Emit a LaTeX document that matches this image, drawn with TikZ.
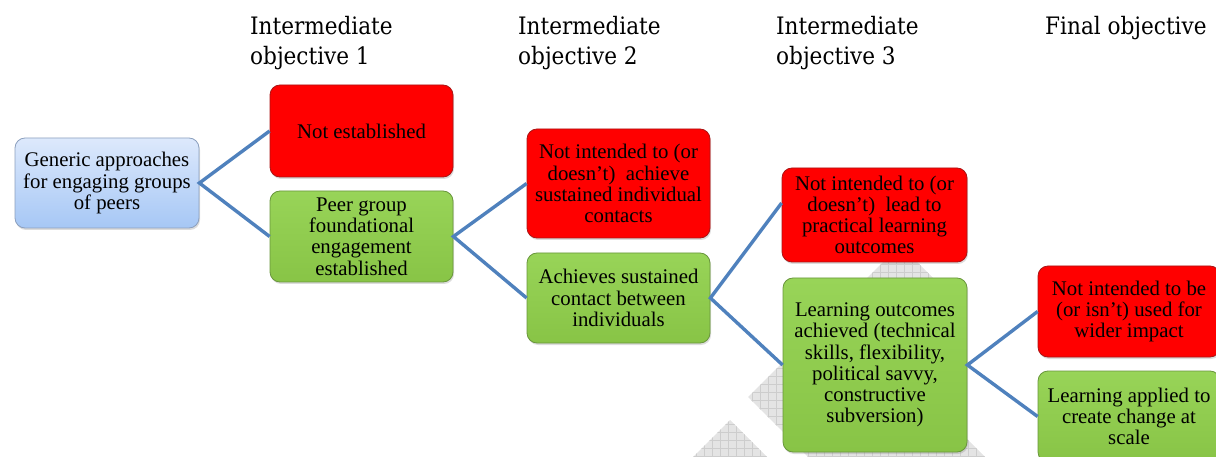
\documentclass[tikz,border=0pt]{standalone}
\usepackage{fontspec}
\setmainfont{Liberation Serif}
\newfontfamily\headfont{DejaVu Serif Condensed}
\usetikzlibrary{shadows}
\definecolor{linkblue}{RGB}{79,129,189}
\definecolor{bluetop}{RGB}{221,233,252}
\definecolor{bluebot}{RGB}{166,199,245}
\definecolor{blueedge}{RGB}{140,160,190}
\definecolor{redfill}{RGB}{255,0,0}
\definecolor{rededge}{RGB}{170,20,20}
\definecolor{greentop}{RGB}{152,212,88}
\definecolor{greenbot}{RGB}{136,196,70}
\definecolor{greenedge}{RGB}{105,150,60}
\definecolor{wmgray}{RGB}{228,228,228}
\definecolor{wmline}{RGB}{205,205,205}
\tikzset{
  boxbase/.style={rounded corners=10pt, inner sep=0pt, align=center,
    font=\rmfamily\fontsize{20.8}{21.2}\selectfont, line width=0.8pt,
    drop shadow={opacity=0.28, shadow xshift=1pt, shadow yshift=-2pt}},
  bluebox/.style={boxbase, draw=blueedge, top color=bluetop, bottom color=bluebot},
  redbox/.style={boxbase, draw=rededge, fill=redfill},
  greenbox/.style={boxbase, draw=greenedge, top color=greentop, bottom color=greenbot},
  link/.style={draw=linkblue, line width=3.4pt},
  header/.style={anchor=base west, inner sep=0pt, font=\headfont\fontsize{24}{30}\selectfont}
}
\begin{document}
\begin{tikzpicture}[x=1pt,y=-1pt]
\useasboundingbox (0,0) rectangle (1216,457);
% watermark
\begin{scope}
  \clip (900,245) -- (748,397) -- (808,457) -- (985,457) -- (955,427) -- (955,300) -- cycle;
  \fill[wmgray] (700,230) rectangle (1000,460);
  \draw[wmline, line width=0.4pt, step=8pt] (700,230) grid (1000,460);
\end{scope}
\begin{scope}
  \clip (693,457) -- (730,420) -- (767,457) -- cycle;
  \fill[wmgray] (690,415) rectangle (770,460);
  \draw[wmline, line width=0.4pt, step=8pt] (690,415) grid (770,460);
\end{scope}
% headers
\node[header] (h1a) at (250,35) {Intermediate};
\node[header] (h1b) at (250,65) {objective 1};
\node[header] (h2a) at (518,35) {Intermediate};
\node[header] (h2b) at (518,65) {objective 2};
\node[header] (h3a) at (776,35) {Intermediate};
\node[header] (h3b) at (776,65) {objective 3};
\node[header] (h4a) at (1045,35) {Final objective};
% boxes
\node[bluebox, minimum width=184pt, minimum height=90pt] (A) at (107,183)
  {Generic approaches\\for engaging groups\\of peers};
\node[redbox, minimum width=183pt, minimum height=92pt] (B1) at (361.5,131)
  {Not established};
\node[greenbox, minimum width=183pt, minimum height=91pt] (B2) at (361.5,236.5)
  {Peer group\\foundational\\engagement\\established};
\node[redbox, minimum width=183pt, minimum height=109pt] (C1) at (618.5,183.5)
  {Not intended to (or\\doesn’t)\ \ achieve\\sustained individual\\contacts};
\node[greenbox, minimum width=183pt, minimum height=90pt] (C2) at (618.5,298)
  {Achieves sustained\\contact between\\individuals};
\node[redbox, minimum width=185pt, minimum height=94pt] (D1) at (874.5,215)
  {Not intended to (or\\doesn’t)\ \ lead to\\practical learning\\outcomes};
\node[greenbox, minimum width=184pt, minimum height=174pt] (D2) at (875,365)
  {Learning outcomes\\achieved (technical\\skills, flexibility,\\political savvy,\\constructive\\subversion)};
\node[redbox, minimum width=182pt, minimum height=91pt] (E1) at (1129,311.5)
  {Not intended to be\\(or isn’t) used for\\wider impact};
\node[greenbox, minimum width=182pt, minimum height=91pt] (E2) at (1129,416.5)
  {Learning applied to\\create change at\\scale};
% connectors
\draw[link] (B1.west) -- (A.east) -- (B2.west);
\draw[link] (C1.west) -- (B2.east) -- (C2.west);
\draw[link] ([yshift=12pt]D1.west) -- (C2.east) -- (D2.west);
\draw[link] (E1.west) -- (D2.east) -- (E2.west);
\end{tikzpicture}
\end{document}
